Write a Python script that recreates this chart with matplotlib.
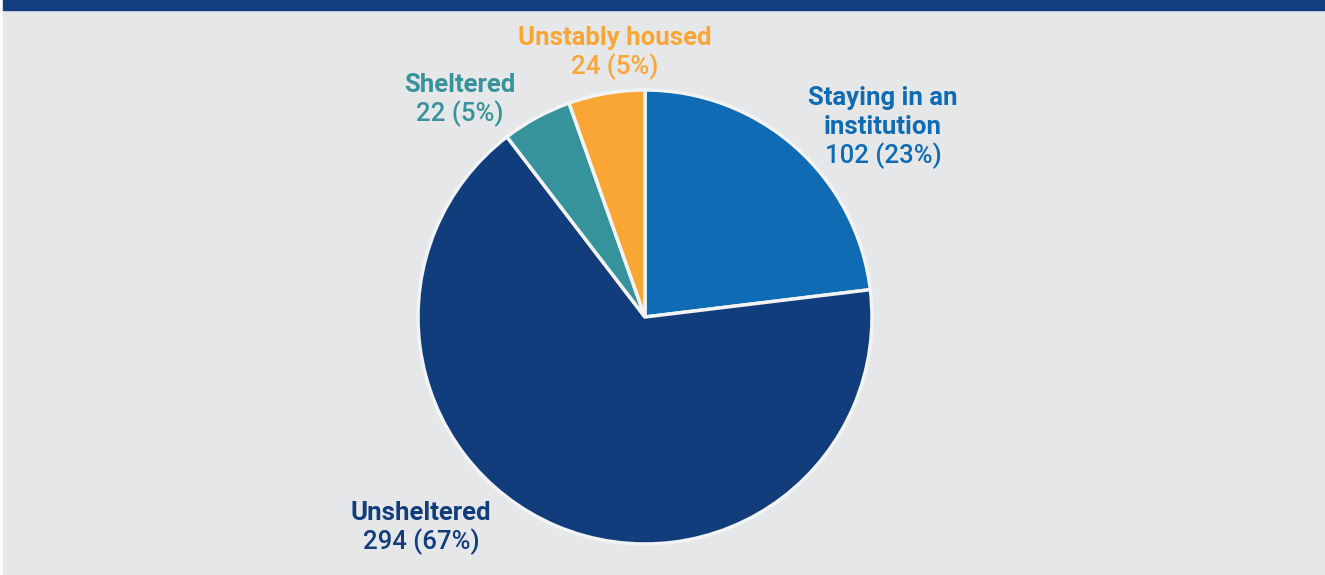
import matplotlib.pyplot as plt
from matplotlib.patches import Rectangle

categories = ['Staying in an\ninstitution', 'Unsheltered', 'Sheltered', 'Unstably housed']
values = [102, 294, 22, 24]
colors = ['#0e6bb4', '#123d7c', '#37939b', '#f9a634']

# label anchor (pixel coords from top-left) for the name lines, value goes below
label_pos = [(883, 98), (421, 513), (460, 85), (615, 38)]

W, H = 1325, 575
fig = plt.figure(figsize=(W / 100, H / 100), dpi=100)
fig.patch.set_facecolor('white')
ax = fig.add_axes([0, 0, 1, 1])
ax.set_xlim(0, W)
ax.set_ylim(0, H)
ax.axis('off')

# background and top band
ax.add_patch(Rectangle((3, 0), W - 3, H, color='#e6e7e9', zorder=0))
ax.add_patch(Rectangle((3, H - 10), W - 3, 10, color='#123d7e', zorder=1))

ax.pie(values, colors=colors, startangle=90, counterclock=False,
       center=(645, H - 317), radius=227,
       wedgeprops=dict(edgecolor='#f2f3f4', linewidth=2.5))
ax.set_xlim(0, W)
ax.set_ylim(0, H)
ax.set_aspect('auto')

total = sum(values)
lh = 29
for name, v, c, (x, y) in zip(categories, values, colors, label_pos):
    lines = name.split('\n')
    for i, ln in enumerate(lines):
        ax.text(x, H - (y + i * lh), ln, color=c, fontsize=18.5, fontweight='bold',
                family='Roboto', ha='center', va='center')
    ax.text(x, H - (y + len(lines) * lh), '%d (%d%%)' % (v, round(v / total * 100)),
            color=c, fontsize=18.5, fontweight='medium', family='Roboto',
            ha='center', va='center')

fig.savefig('out.png', dpi=100)
